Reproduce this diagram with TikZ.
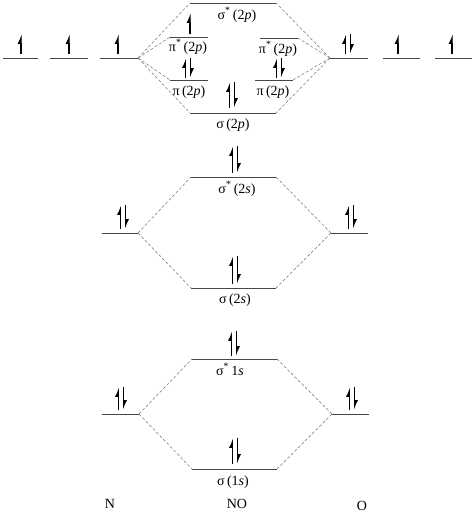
\documentclass[tikz,border=0pt]{standalone}
\usepackage{fontspec}
\setmainfont{Liberation Serif}
\usetikzlibrary{arrows.meta}
\newcommand{\mylevel}[4]{%
  \draw[level] (#2,#4) coordinate (#1-l) -- (#3,#4) coordinate (#1-r);}
\newcommand{\myup}[3]{\draw[elec] (#1,#2) -- (#1,#3);}
\newcommand{\mypair}[3]{%
  \draw[elec] (#1-2.6,#3) -- (#1-2.6,#2);
  \draw[elec] (#1+2.6,#2) -- (#1+2.6,#3);}
\begin{document}
\begin{tikzpicture}[x=1pt,y=-1pt,
  level/.style={draw=black!72,line width=0.9pt},
  corr/.style={draw=black!55,line width=0.5pt,dash pattern=on 3pt off 2pt},
  elec/.style={line width=1.1pt,-{Latex[harpoon,length=8pt,width=7pt]}},
  lab/.style={font=\fontsize{14}{16}\selectfont,inner sep=0pt,anchor=base}]
\useasboundingbox (0,0) rectangle (474,515);
% N 2p and O 2p
\mylevel{a1}{3}{38}{58}
\mylevel{a2}{50}{88}{58}
\mylevel{a3}{100}{138}{58}
\mylevel{b1}{330}{368}{58}
\mylevel{b2}{383}{420}{58}
\mylevel{b3}{435}{472}{58}
% MOs 2p
\mylevel{sigs2p}{190}{276}{3}
\mylevel{pisl}{170}{208}{37}
\mylevel{pisr}{260}{298}{38}
\mylevel{pil}{170}{208}{80}
\mylevel{pir}{255}{293}{80}
\mylevel{sig2p}{190}{276}{113}
% 2s
\mylevel{sigs2s}{191}{276}{177}
\mylevel{n2s}{102}{138}{233}
\mylevel{o2s}{331}{368}{233}
\mylevel{sig2s}{191}{276}{288}
% 1s
\mylevel{sigs1s}{192}{277}{359}
\mylevel{n1s}{102}{139}{414}
\mylevel{o1s}{332}{369}{414}
\mylevel{sig1s}{192}{277}{469}
% correlation lines
\foreach \m in {sigs2p,pisl,pil,sig2p} \draw[corr] (a3-r) -- (\m-l);
\foreach \m in {sigs2p,pisr,pir,sig2p} \draw[corr] (b1-l) -- (\m-r);
\foreach \m in {sigs2s,sig2s} {\draw[corr] (n2s-r) -- (\m-l); \draw[corr] (o2s-l) -- (\m-r);}
\foreach \m in {sigs1s,sig1s} {\draw[corr] (n1s-r) -- (\m-l); \draw[corr] (o1s-l) -- (\m-r);}
% electrons
\myup{21}{54}{34}
\myup{69}{54}{34}
\myup{118}{54}{34}
\mypair{348}{34}{54}
\myup{398}{54}{34}
\myup{452}{54}{34}
\myup{190}{34}{13}
\mypair{188}{58}{78}
\mypair{279}{58}{78}
\mypair{232}{82}{108}
\mypair{235}{146}{173}
\mypair{123}{205}{229}
\mypair{351}{205}{229}
\mypair{235}{256}{284}
\mypair{234}{331}{356}
\mypair{121}{387}{410}
\mypair{352}{387}{410}
\mypair{235}{438}{464}
% labels
\node[lab] (l1) at (237,19) {σ\textsuperscript{*}\,(2\textit{p})};
\node[lab] (l2) at (188,51) {π\textsuperscript{*}\,(2\textit{p})};
\node[lab] (l3) at (278,53) {π\textsuperscript{*}\,(2\textit{p})};
\node[lab] (l4) at (189,95) {π\,(2\textit{p})};
\node[lab] (l5) at (273,95) {π\,(2\textit{p})};
\node[lab] (l6) at (233,128) {σ\,(2\textit{p})};
\node[lab] (l7) at (237,193) {σ\textsuperscript{*}\,(2\textit{s})};
\node[lab] (l8) at (235,303) {σ\,(2\textit{s})};
\node[lab] (l9) at (230,375) {σ\textsuperscript{*}\,1\textit{s}};
\node[lab] (l10) at (233,485) {σ\,(1\textit{s})};
\node[lab] (N) at (110,508) {N};
\node[lab] (NO) at (237,508) {NO};
\node[lab] (O) at (362,510) {O};
\end{tikzpicture}
\end{document}
